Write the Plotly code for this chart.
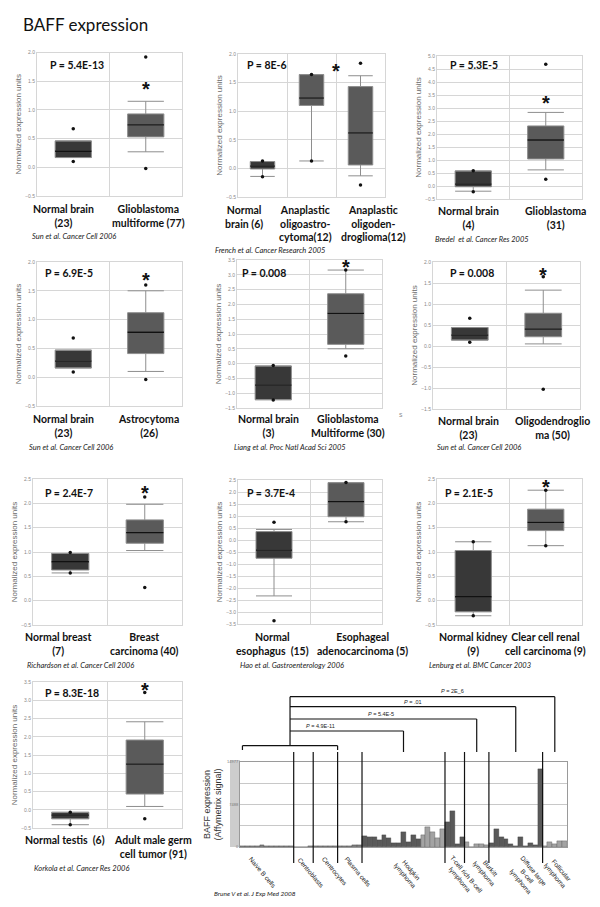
import plotly.graph_objects as go

W, H = 600, 907

chart_title = "BAFF expression"

# ---------------- Box-plot panels ----------------
# Panel 1
p1_labels = ["Normal brain<br>(23)", "Glioblastoma<br>multiforme (77)"]
p1_q1 = [0.17, 0.53]
p1_med = [0.28, 0.74]
p1_q3 = [0.46, 0.93]
p1_lo = [0.17, 0.27]
p1_hi = [0.46, 1.15]
p1_min = [0.10, -0.02]
p1_max = [0.67, 1.92]
p1_pval = "P = 5.4E-13"
p1_star = 1.45
p1_cite = "Sun et al. Cancer Cell 2006"

# Panel 2
p2_labels = ["Normal<br>brain (6)", "Anaplastic<br>oligoastro-<br>cytoma(12)", "Anaplastic<br>oligoden-<br>droglioma(12)"]
p2_q1 = [-0.01, 1.10, 0.06]
p2_med = [0.04, 1.23, 0.62]
p2_q3 = [0.12, 1.64, 1.43]
p2_lo = [-0.14, 0.13, -0.13]
p2_hi = [0.12, 1.64, 1.62]
p2_min = [-0.145, 0.13, -0.29]
p2_max = [0.13, 1.64, 1.84]
p2_pval = "P = 8E-6"
p2_star = 1.79
p2_cite = "French et al. Cancer Research 2005"

# Panel 3
p3_labels = ["Normal brain<br>(4)", "Glioblastoma<br>(31)"]
p3_q1 = [-0.03, 1.04]
p3_med = [0.07, 1.77]
p3_q3 = [0.58, 2.31]
p3_lo = [-0.20, 0.62]
p3_hi = [0.58, 2.83]
p3_min = [-0.22, 0.26]
p3_max = [0.59, 4.68]
p3_pval = "P = 5.3E-5"
p3_star = 3.37
p3_cite = "Bredel  et al. Cancer Res 2005"

# Panel 4
p4_labels = ["Normal brain<br>(23)", "Astrocytoma<br>(26)"]
p4_q1 = [0.16, 0.41]
p4_med = [0.28, 0.78]
p4_q3 = [0.47, 1.12]
p4_lo = [0.16, 0.10]
p4_hi = [0.47, 1.50]
p4_min = [0.09, -0.04]
p4_max = [0.68, 1.60]
p4_pval = "P = 6.9E-5"
p4_star = 1.77
p4_cite = "Sun et al. Cancer Cell 2006"

# Panel 5
p5_labels = ["Normal brain<br>(3)", "Glioblastoma<br>Multiforme (30)"]
p5_q1 = [-1.22, 0.65]
p5_med = [-0.73, 1.70]
p5_q3 = [-0.08, 2.36]
p5_lo = [-1.22, 0.50]
p5_hi = [-0.08, 3.16]
p5_min = [-1.23, 0.26]
p5_max = [-0.06, 3.16]
p5_pval = "P = 0.008"
p5_star = 3.42
p5_cite = "Liang et al. Proc Natl Acad Sci 2005"

# Panel 6
p6_labels = ["Normal brain<br>(23)", "Oligodendroglio<br>ma (50)"]
p6_q1 = [0.14, 0.22]
p6_med = [0.26, 0.40]
p6_q3 = [0.44, 0.78]
p6_lo = [0.14, 0.05]
p6_hi = [0.44, 1.33]
p6_min = [0.09, -1.03]
p6_max = [0.66, 1.65]
p6_pval = "P = 0.008"
p6_star = 1.82
p6_cite = "Sun et al. Cancer Cell 2006"

# Panel 7
p7_labels = ["Normal breast<br>(7)", "Breast<br>carcinoma (40)"]
p7_q1 = [0.63, 1.18]
p7_med = [0.80, 1.40]
p7_q3 = [0.97, 1.66]
p7_lo = [0.57, 1.03]
p7_hi = [0.97, 1.98]
p7_min = [0.57, 0.27]
p7_max = [0.99, 2.13]
p7_pval = "P = 2.4E-7"
p7_star = 2.32
p7_cite = "Richardson et al. Cancer Cell 2006"

# Panel 8
p8_labels = ["Normal<br>esophagus  (15)", "Esophageal<br>adenocarcinoma (5)"]
p8_q1 = [-0.76, 0.97]
p8_med = [-0.42, 1.60]
p8_q3 = [0.35, 2.39]
p8_lo = [-2.33, 0.76]
p8_hi = [0.44, 2.39]
p8_min = [-3.36, 0.76]
p8_max = [0.74, 2.40]
p8_pval = "P = 3.7E-4"
p8_star = 2.85
p8_cite = "Hao et al. Gastroenterology 2006"

# Panel 9
p9_labels = ["Normal kidney<br>(9)", "Clear cell renal<br>cell carcinoma (9)"]
p9_q1 = [-0.23, 1.44]
p9_med = [0.08, 1.61]
p9_q3 = [1.03, 1.88]
p9_lo = [-0.31, 1.13]
p9_hi = [1.21, 2.27]
p9_min = [-0.31, 1.13]
p9_max = [1.21, 2.27]
p9_pval = "P = 2.1E-5"
p9_star = 2.43
p9_cite = "Lenburg et al. BMC Cancer 2003"

# Panel 10
p10_labels = ["Normal testis  (6)", "Adult male germ<br>cell tumor (91)"]
p10_q1 = [-0.25, 0.43]
p10_med = [-0.15, 1.25]
p10_q3 = [-0.07, 1.91]
p10_lo = [-0.41, 0.09]
p10_hi = [-0.07, 2.41]
p10_min = [-0.41, -0.25]
p10_max = [-0.07, 3.21]
p10_pval = "P = 8.3E-18"
p10_star = 3.41
p10_cite = "Korkola et al. Cancer Res 2006"

# ---------------- Bar chart (Brune et al.) ----------------
bar_groups = ["Naive B cells", "Centroblasts", "Centrocytes", "Plasma cells",
              "Hodgkin<br>lymphoma", "T-cell rich B-cell<br>lymphoma", "Burkitt<br>lymphoma",
              "Diffuse large<br>B-cell<br>lymphoma", "Follicular<br>lymphoma"]
naive_b = [250, 230, 260, 220, 280, 240, 250, 200, 180, 170, 160]
centroblasts = [80, 60, 70, 90]
centrocytes = [120, 100, 150, 180, 200]
plasma_cells = [180, 150, 250, 300, 280]
hodgkin = [1980, 1690, 1690, 1165, 2040, 1570, 700, 700, 2620, 930, 2150, 1460,
           2150, 3610, 2560, 1570, 3200]
tcell_rich = [4370, 6410, 520, 1690]
burkitt = [870, 60, 580, 580, 400]
dlbcl = [700, 3200, 1750, 1460, 520, 230, 1690, 230, 700, 400, 13700]
follicular = [100, 820, 520, 1100, 990]
bar_values_by_group = [naive_b, centroblasts, centrocytes, plasma_cells, hodgkin,
                       tcell_rich, burkitt, dlbcl, follicular]
# shade per bar: d = dark, l = light, m = medium
bar_shades_by_group = ["m" * 11, "m" * 4, "m" * 5, "m" * 5, "d" * 12 + "l" * 5,
                       "d" * 4, "l" * 5, "d" * 11, "l" * 5]
bar_ymax = 14977
bar_yticktext = ["0", "", "7488", "", "14977"]
bar_cite = "Brune V et al. J Exp Med 2008"
# comparisons: reference = groups 0..2 (normal B cells)
bracket_ref_groups = [0, 1, 2]
bracket_targets = [4, 6, 7, 8]
bracket_pvals = ["<i>P</i> = 4.9E-11", "<i>P</i> = 5.4E-5", "<i>P</i> = .01", "<i>P</i> = 2E_6"]

# ---------------- Layout specs (pixels) ----------------
def px(x):
    return x / W

def py(y):
    return 1 - y / H

panels = [
    dict(lab=p1_labels, q1=p1_q1, med=p1_med, q3=p1_q3, lo=p1_lo, hi=p1_hi, mn=p1_min, mx=p1_max,
         p=p1_pval, star=p1_star, cite=p1_cite,
         box=(37, 182, 52.5, 196), yr=(-0.5, 2.0), labx=(63, 148), labtop=201, pxy=(48, 65), cxy=(30, 237), starx=1),
    dict(lab=p2_labels, q1=p2_q1, med=p2_med, q3=p2_q3, lo=p2_lo, hi=p2_hi, mn=p2_min, mx=p2_max,
         p=p2_pval, star=p2_star, cite=p2_cite,
         box=(238, 385, 54, 197), yr=(-0.5, 2.0), labx=(244, 305, 373), labtop=202, pxy=(245, 65), cxy=(213, 250), starx=1.5),
    dict(lab=p3_labels, q1=p3_q1, med=p3_med, q3=p3_q3, lo=p3_lo, hi=p3_hi, mn=p3_min, mx=p3_max,
         p=p3_pval, star=p3_star, cite=p3_cite,
         box=(437, 582, 56, 199), yr=(-0.5, 5.0), labx=(468, 555), labtop=203, pxy=(448, 65), cxy=(433, 239), starx=1),
    dict(lab=p4_labels, q1=p4_q1, med=p4_med, q3=p4_q3, lo=p4_lo, hi=p4_hi, mn=p4_min, mx=p4_max,
         p=p4_pval, star=p4_star, cite=p4_cite,
         box=(37, 182, 262, 406), yr=(-0.5, 2.0), labx=(63, 148), labtop=411, pxy=(43, 273), cxy=(27, 447), starx=1),
    dict(lab=p5_labels, q1=p5_q1, med=p5_med, q3=p5_q3, lo=p5_lo, hi=p5_hi, mn=p5_min, mx=p5_max,
         p=p5_pval, star=p5_star, cite=p5_cite,
         box=(237, 382, 260, 408), yr=(-1.5, 3.5), labx=(268, 348), labtop=411, pxy=(240, 273), cxy=(232, 447), starx=1),
    dict(lab=p6_labels, q1=p6_q1, med=p6_med, q3=p6_q3, lo=p6_lo, hi=p6_hi, mn=p6_min, mx=p6_max,
         p=p6_pval, star=p6_star, cite=p6_cite,
         box=(433, 580, 262, 409), yr=(-1.5, 2.0), labx=(468, 552), labtop=413, pxy=(448, 273), cxy=(435, 447), starx=1),
    dict(lab=p7_labels, q1=p7_q1, med=p7_med, q3=p7_q3, lo=p7_lo, hi=p7_hi, mn=p7_min, mx=p7_max,
         p=p7_pval, star=p7_star, cite=p7_cite,
         box=(33, 182, 479, 625), yr=(-0.5, 2.5), labx=(58, 144), labtop=629, pxy=(43, 493), cxy=(25, 665), starx=1),
    dict(lab=p8_labels, q1=p8_q1, med=p8_med, q3=p8_q3, lo=p8_lo, hi=p8_hi, mn=p8_min, mx=p8_max,
         p=p8_pval, star=p8_star, cite=p8_cite,
         box=(238, 382, 480, 624), yr=(-3.5, 2.5), labx=(272, 362), labtop=629, pxy=(245, 493), cxy=(238, 665), starx=1),
    dict(lab=p9_labels, q1=p9_q1, med=p9_med, q3=p9_q3, lo=p9_lo, hi=p9_hi, mn=p9_min, mx=p9_max,
         p=p9_pval, star=p9_star, cite=p9_cite,
         box=(437, 582, 479, 625), yr=(-0.5, 2.5), labx=(473, 545), labtop=629, pxy=(443, 493), cxy=(427, 665), starx=1),
    dict(lab=p10_labels, q1=p10_q1, med=p10_med, q3=p10_q3, lo=p10_lo, hi=p10_hi, mn=p10_min, mx=p10_max,
         p=p10_pval, star=p10_star, cite=p10_cite,
         box=(33, 182, 682, 828), yr=(-0.5, 3.5), labx=(65, 153), labtop=832, pxy=(43, 693), cxy=(32, 868), starx=1),
]

LABEL_FONT = "Lato, 'Open Sans', sans-serif"
AX_FONT = "'Liberation Sans', Arial, sans-serif"
GRID = "#d6d6d6"
DARK_BOX = "#383838"
MID_BOX = "#5a5a5a"

fig = go.Figure()
layout = {}
annotations = []
shapes = []

for k, pn in enumerate(panels, start=1):
    xr = "x" if k == 1 else f"x{k}"
    yr_ = "y" if k == 1 else f"y{k}"
    xkey = "xaxis" if k == 1 else f"xaxis{k}"
    ykey = "yaxis" if k == 1 else f"yaxis{k}"
    l, r, t, b = pn["box"]
    n = len(pn["lab"])
    for i in range(n):
        fill = DARK_BOX if i == 0 else MID_BOX
        fig.add_trace(go.Box(
            x=[i], q1=[pn["q1"][i]], median=[pn["med"][i]], q3=[pn["q3"][i]],
            lowerfence=[pn["lo"][i]], upperfence=[pn["hi"][i]],
            width=0.5, whiskerwidth=1, fillcolor=fill,
            line=dict(color="#8e8e8e", width=1), boxpoints=False,
            xaxis=xr, yaxis=yr_, showlegend=False, hoverinfo="skip"))
        fig.add_trace(go.Scatter(
            x=[i - 0.25, i + 0.25], y=[pn["med"][i], pn["med"][i]], mode="lines",
            line=dict(color="#111111", width=1.3), xaxis=xr, yaxis=yr_,
            showlegend=False, hoverinfo="skip"))
    fig.add_trace(go.Scatter(
        x=list(range(n)) * 2, y=list(pn["mn"]) + list(pn["mx"]), mode="markers",
        marker=dict(color="#111111", size=3.5), xaxis=xr, yaxis=yr_,
        showlegend=False, hoverinfo="skip"))
    layout[xkey] = dict(domain=[px(l), px(r)], anchor=yr_, range=[-0.5, n - 0.5],
                        tickvals=[j + 0.5 for j in range(n - 1)], showticklabels=False,
                        showgrid=True, gridcolor=GRID, gridwidth=1, zeroline=False,
                        showline=True, mirror=True, linecolor=GRID, ticks="", fixedrange=True)
    layout[ykey] = dict(domain=[py(b), py(t)], anchor=xr, range=list(pn["yr"]), dtick=0.5,
                        tickformat=".1f", tickfont=dict(size=5, color="#8a8a8a", family=AX_FONT),
                        showgrid=True, gridcolor=GRID, zeroline=False, showline=True,
                        mirror=True, linecolor=GRID, ticks="", automargin=False,
                        title=dict(text="Normalized expression units", standoff=2,
                                   font=dict(size=8, color="#6a6a6a", family=AX_FONT)))
    for i in range(n):
        annotations.append(dict(text="<b>" + pn["lab"][i] + "</b>", x=px(pn["labx"][i]), y=py(pn["labtop"]),
                                xref="paper", yref="paper", xanchor="center", yanchor="top",
                                showarrow=False, font=dict(size=10.5, color="#111111", family=LABEL_FONT)))
    annotations.append(dict(text="<b>" + pn["p"] + "</b>", x=px(pn["pxy"][0]), y=py(pn["pxy"][1]),
                            xref="paper", yref="paper", xanchor="left", yanchor="middle",
                            showarrow=False, font=dict(size=10.5, color="#111111", family=LABEL_FONT)))
    annotations.append(dict(text="<b>*</b>", x=pn["starx"], y=pn["star"], xref=xr, yref=yr_,
                            xanchor="center", yanchor="middle", yshift=-5, showarrow=False,
                            font=dict(size=20, color="#111111", family=AX_FONT)))
    annotations.append(dict(text="<i>" + pn["cite"] + "</i>", x=px(pn["cxy"][0]), y=py(pn["cxy"][1]),
                            xref="paper", yref="paper", xanchor="left", yanchor="middle",
                            showarrow=False, font=dict(size=7.5, color="#222222", family=LABEL_FONT)))

annotations.append(dict(text="S", x=px(405), y=py(415), xref="paper", yref="paper", showarrow=False,
                        font=dict(size=5, color="#777777", family=AX_FONT)))

# ---------------- Bar chart ----------------
shade_color = {"d": "#595959", "l": "#a3a3a3", "m": "#7a7a7a"}
bar_values = []
bar_colors = []
for vals, shades in zip(bar_values_by_group, bar_shades_by_group):
    bar_values.extend(vals)
    bar_colors.extend(shade_color[s] for s in shades)
nbars = len(bar_values)
fig.add_trace(go.Bar(x=list(range(nbars)), y=bar_values, marker=dict(color=bar_colors,
                     line=dict(color="#3a3a3a", width=0.3)),
                     xaxis="x11", yaxis="y11", showlegend=False, hoverinfo="skip"))
BL, BR, BT, BB = 240, 567, 762, 847
layout["xaxis11"] = dict(domain=[px(BL), px(BR)], anchor="y11", range=[-0.5, nbars - 0.5],
                         showticklabels=False, showgrid=False, zeroline=False, showline=True,
                         mirror=True, linecolor="#9a9a9a", ticks="", fixedrange=True)
layout["yaxis11"] = dict(domain=[py(BB), py(BT)], anchor="x11", range=[0, bar_ymax],
                         tickvals=[bar_ymax * q / 4 for q in range(5)], ticktext=bar_yticktext,
                         tickfont=dict(size=4, color="#777777", family=AX_FONT), showgrid=True,
                         gridcolor="#c8c8c8", zeroline=False, showline=True, mirror=True,
                         linecolor="#9a9a9a", ticks="", automargin=False,
                         title=dict(text="BAFF expression<br>(Affymetrix signal)", standoff=3,
                                    font=dict(size=9, color="#333333", family=AX_FONT)))
shapes.append(dict(type="rect", xref="paper", yref="paper", x0=px(230), x1=px(BL), y0=py(BB), y1=py(BT - 2),
                   fillcolor="#cdcdcd", line=dict(width=0), layer="below"))

bounds = []
cum = 0
starts = []
for vals in bar_values_by_group:
    starts.append(cum)
    cum += len(vals)
    bounds.append(cum - 0.5)
centers = [(s + (len(v) - 1) / 2) for s, v in zip(starts, bar_values_by_group)]
for bnd in bounds[:-1]:
    shapes.append(dict(type="line", xref="x11", yref="paper", x0=bnd, x1=bnd, y0=py(752), y1=py(863),
                       line=dict(color="#111111", width=1.2)))

glabel_pos = [(263, 872), (311, 872), (334, 871), (358, 871), (408, 873), (463, 877), (487, 871),
              (527, 876), (558, 873)]
for name, (gx, gy) in zip(bar_groups, glabel_pos):
    annotations.append(dict(text=name, x=px(gx), y=py(gy), xref="paper", yref="paper",
                            xanchor="center", yanchor="middle", textangle=50, showarrow=False,
                            font=dict(size=6.5, color="#222222", family=AX_FONT)))

ref_lo = starts[bracket_ref_groups[0]]
ref_hi = bounds[bracket_ref_groups[-1]]
stem_x = (ref_lo + ref_hi) / 2
LW = dict(color="#111111", width=1.2)
shapes.append(dict(type="line", xref="x11", yref="paper", x0=ref_lo, x1=ref_hi, y0=py(745.7), y1=py(745.7), line=LW))
shapes.append(dict(type="line", xref="x11", yref="paper", x0=ref_lo, x1=ref_lo, y0=py(745.7), y1=py(750), line=LW))
shapes.append(dict(type="line", xref="x11", yref="paper", x0=ref_hi, x1=ref_hi, y0=py(745.7), y1=py(750), line=LW))
bracket_y = [731, 719, 706.7, 696.7]
bracket_label_xy = [(320, 726), (381, 713.5), (413, 702), (452, 691)]
shapes.append(dict(type="line", xref="x11", yref="paper", x0=stem_x, x1=stem_x, y0=py(745.7), y1=py(min(bracket_y)), line=LW))
for tg, by, lab, (lx, ly) in zip(bracket_targets, bracket_y, bracket_pvals, bracket_label_xy):
    tx = centers[tg]
    shapes.append(dict(type="line", xref="x11", yref="paper", x0=stem_x, x1=tx, y0=py(by), y1=py(by), line=LW))
    shapes.append(dict(type="line", xref="x11", yref="paper", x0=tx, x1=tx, y0=py(by), y1=py(752), line=LW))
    annotations.append(dict(text=lab, x=px(lx), y=py(ly), xref="paper", yref="paper", xanchor="center",
                            yanchor="middle", showarrow=False, font=dict(size=5.5, color="#222222", family=AX_FONT)))

annotations.append(dict(text="<i>" + bar_cite + "</i>", x=px(212), y=py(893), xref="paper", yref="paper",
                        xanchor="left", yanchor="middle", showarrow=False,
                        font=dict(size=6.5, color="#222222", family=LABEL_FONT)))

annotations.append(dict(text=chart_title, x=px(21), y=py(25), xref="paper", yref="paper", xanchor="left",
                        yanchor="middle", showarrow=False, font=dict(size=17, color="#111111", family=LABEL_FONT)))

fig.update_layout(width=W, height=H, margin=dict(l=0, r=0, t=0, b=0), paper_bgcolor="white",
                  plot_bgcolor="white", showlegend=False, bargap=0, annotations=annotations,
                  shapes=shapes, **layout)
fig.write_html("out.html", config={"displayModeBar": False},
               post_script="document.body.style.margin='0px';document.body.style.overflow='hidden';")
